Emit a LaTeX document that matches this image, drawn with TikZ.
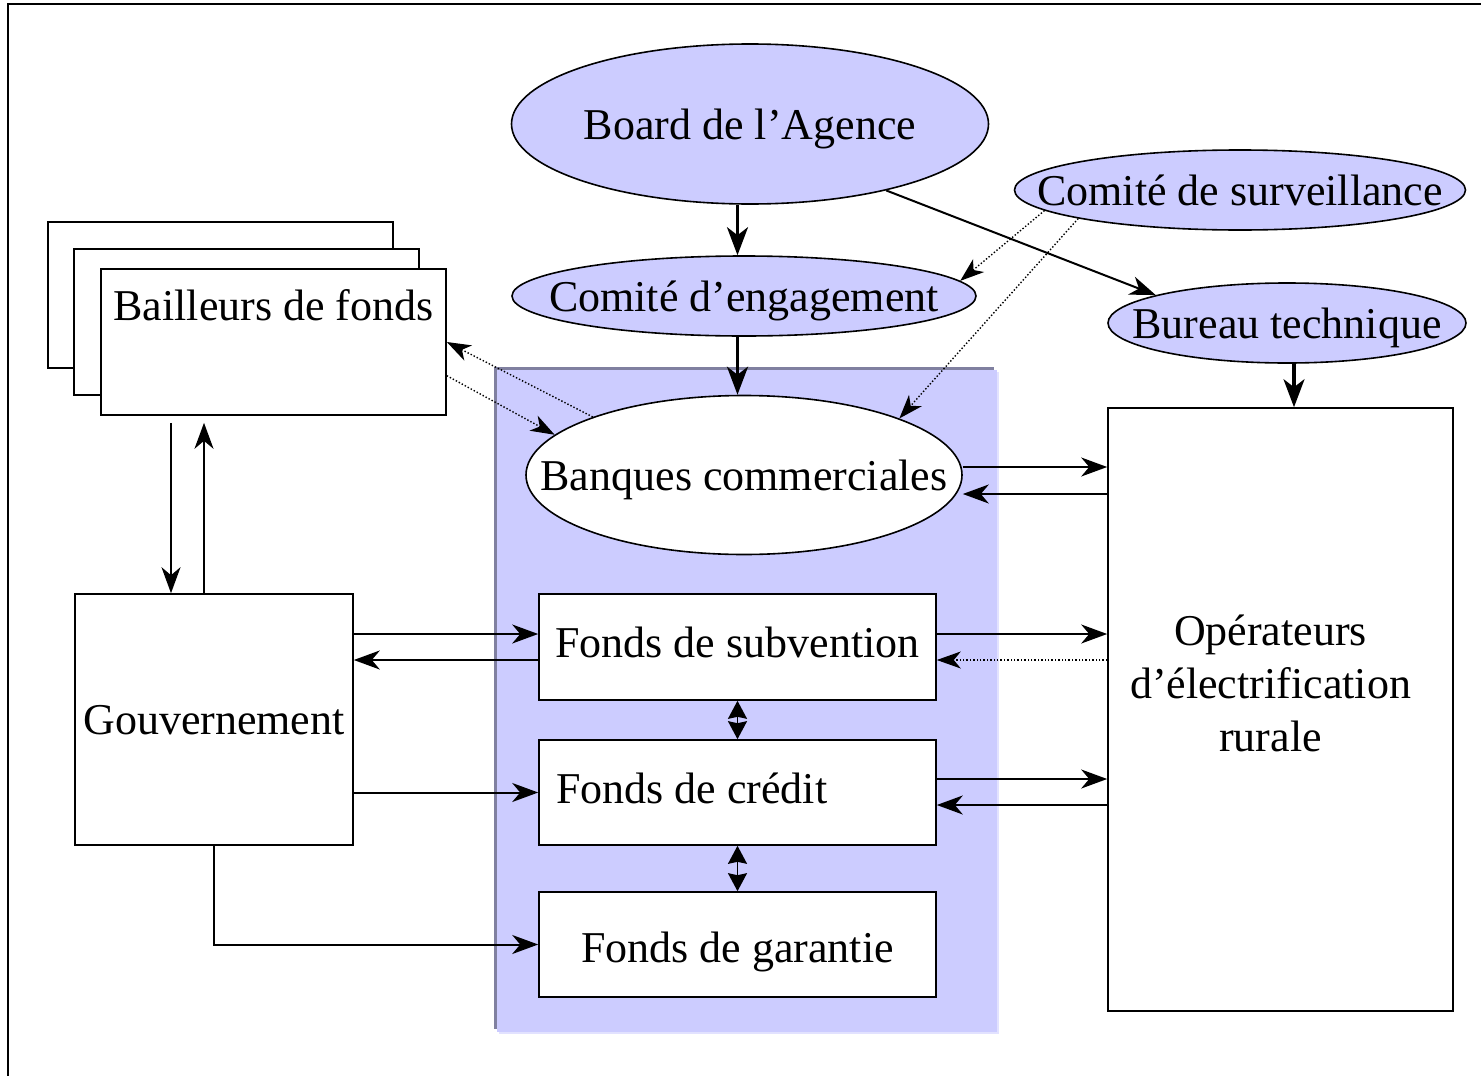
\documentclass[tikz,border=0pt]{standalone}
\usepackage{fontspec}
\setmainfont{Liberation Serif}
\usetikzlibrary{shapes.geometric,arrows.meta,calc}

\definecolor{lav}{RGB}{204,204,255}
\definecolor{lavedge}{RGB}{128,128,160}
\definecolor{lavlight}{RGB}{226,226,255}

% text of zero size, baseline a little below the centre, so that an
% ellipse keeps the size it is given
\newcommand{\zbox}[1]{\raisebox{-15pt}[0pt][0pt]{\makebox[0pt]{#1}}}
% text with its baseline #1 below the centre of its box
\newcommand{\lowered}[2]{\raisebox{-#1}[0pt][0pt]{#2}}

\begin{document}
\begin{tikzpicture}[x=1pt,y=-1pt,
  every node/.style={font=\fontsize{44}{53}\selectfont},
  bubble/.style={ellipse, draw, line width=1.6pt, fill=lav, inner sep=0pt},
  whitebubble/.style={bubble, fill=white},
  box/.style={rectangle, draw, line width=1.6pt, fill=white, inner sep=2pt},
  arr/.style={-{Stealth[length=26pt,width=19pt,inset=8pt]}, line width=2pt},
  thickarr/.style={-{Stealth[length=28pt,width=21pt,inset=8pt]}, line width=3.2pt},
  dotarr/.style={-{Stealth[length=24pt,width=17pt,inset=7pt]}, line width=1.4pt,
                 dash pattern=on 1.4pt off 2pt},
  dblarr/.style={{Stealth[length=18pt,width=19pt,inset=2pt]}-{Stealth[length=18pt,width=19pt,inset=2pt]},
                 line width=1.8pt}]

% page and outer frame
\fill[white] (0,0) rectangle (1481,1076);
\useasboundingbox (0,0) rectangle (1481,1076);
\draw[line width=1.8pt] (8,1076) -- (8,4) -- (1481,4);

% shaded panel holding the financial bodies
\fill[lavlight] (499,372) rectangle (999,1034);
\fill[lavedge] (494,367) rectangle (994,1029);
\fill[lav] (497,370) rectangle (997,1032);

% governance bodies
\node[bubble, minimum width=477pt, minimum height=160pt] (board) at (750,124) {\zbox{Board de l’Agence}};
\node[bubble, minimum width=451pt, minimum height=80pt] (surv) at (1240,190) {\zbox{Comité de surveillance}};
\node[bubble, minimum width=464pt, minimum height=80pt] (engage) at (744,296) {\zbox{Comité d’engagement}};
\node[bubble, minimum width=358pt, minimum height=80pt] (bureau) at (1287,323) {\zbox{Bureau technique}};
\node[whitebubble, minimum width=436pt, minimum height=159pt] (banques) at (744,475) {\zbox{Banques commerciales}};

% stack of donors
\node[box, minimum width=345pt, minimum height=146pt] (bailC) at (220.5,295) {};
\node[box, minimum width=345pt, minimum height=146pt] (bailB) at (246.5,322) {};
\node[box, minimum width=345pt, minimum height=146pt] (bail) at (273.5,342)
  {\raisebox{22pt}[0pt][0pt]{Bailleurs de fonds}};

% government, funds and operators
\node[box, minimum width=278pt, minimum height=251pt] (gouv) at (214,719.5) {\lowered{15pt}{Gouvernement}};
\node[box, minimum width=397pt, minimum height=106pt] (subv) at (737.5,647) {\lowered{10pt}{Fonds de subvention}};
\node[box, minimum width=397pt, minimum height=105pt] (credit) at (737.5,792.5)
  {\lowered{10.5pt}{\makebox[363pt][l]{Fonds de crédit}}};
\node[box, minimum width=345pt, minimum height=603pt] (op) at (1280.5,709.5)
  {\raisebox{15pt}[0pt][0pt]{\makebox[0pt]{\hspace*{-20pt}\begin{tabular}{@{}c@{}}Opérateurs\\d’électrification\\rurale\end{tabular}}}};
\node[box, minimum width=397pt, minimum height=105pt] (gar) at (737.5,944.5) {\lowered{17.5pt}{Fonds de garantie}};

% helper points for the parallel arrow pairs
\coordinate (s1) at ($(subv.west)+(0,-13)$);
\coordinate (s2) at ($(subv.west)+(0,13)$);
\coordinate (c1) at ($(credit.east)+(0,-13.5)$);
\coordinate (c2) at ($(credit.east)+(0,12.5)$);
\coordinate (b1) at ($(banques.east)+(0,-8)$);
\coordinate (b2) at ($(banques.east)+(0,19)$);
\coordinate (g1) at ($(gouv.north)+(-43,0)$);
\coordinate (g2) at ($(gouv.north)+(-10,0)$);
\coordinate (bt) at ($(bureau.south)+(7,0)$);

% chain of command
\draw[thickarr] (subv.north |- board.south) -- (subv.north |- engage.north);
\draw[thickarr] (subv.north |- engage.south) -- (subv.north |- banques.north);
\draw[arr] (board.-26) -- (bureau.168);
\draw[thickarr] (bt) -- (bt |- op.north);

% supervision
\draw[dotarr] (surv.186) -- (engage.4);
\draw[dotarr] (surv.190) -- (banques.20);

% donors and banks
\draw[dotarr] (banques.159) -- (bail.east);
\draw[dotarr] (bail.-11) -- (banques.168);

% donors and government
\draw[arr, shorten <=7pt] (g1 |- bail.south) -- (g1);
\draw[arr, shorten >=7pt] (g2) -- (g2 |- bail.south);

% government and funds
\draw[arr] (s1 -| gouv.east) -- (s1);
\draw[arr] (s2) -- (s2 -| gouv.east);
\draw[arr] (gouv.east |- credit.west) -- (credit.west);
\draw[arr] (gouv.south) |- (gar.west);
\draw[dblarr] (subv.south) -- (credit.north);
\draw[dblarr] (credit.south) -- (gar.north);

% banks and funds with the operators
\draw[arr] (b1) -- (b1 -| op.west);
\draw[arr] (b2 -| op.west) -- (b2);
\draw[arr] (s1 -| subv.east) -- (s1 -| op.west);
\draw[dotarr, line width=1.1pt] (s2 -| op.west) -- (s2 -| subv.east);
\draw[arr] (c1) -- (c1 -| op.west);
\draw[arr] (c2 -| op.west) -- (c2);
\end{tikzpicture}
\end{document}
